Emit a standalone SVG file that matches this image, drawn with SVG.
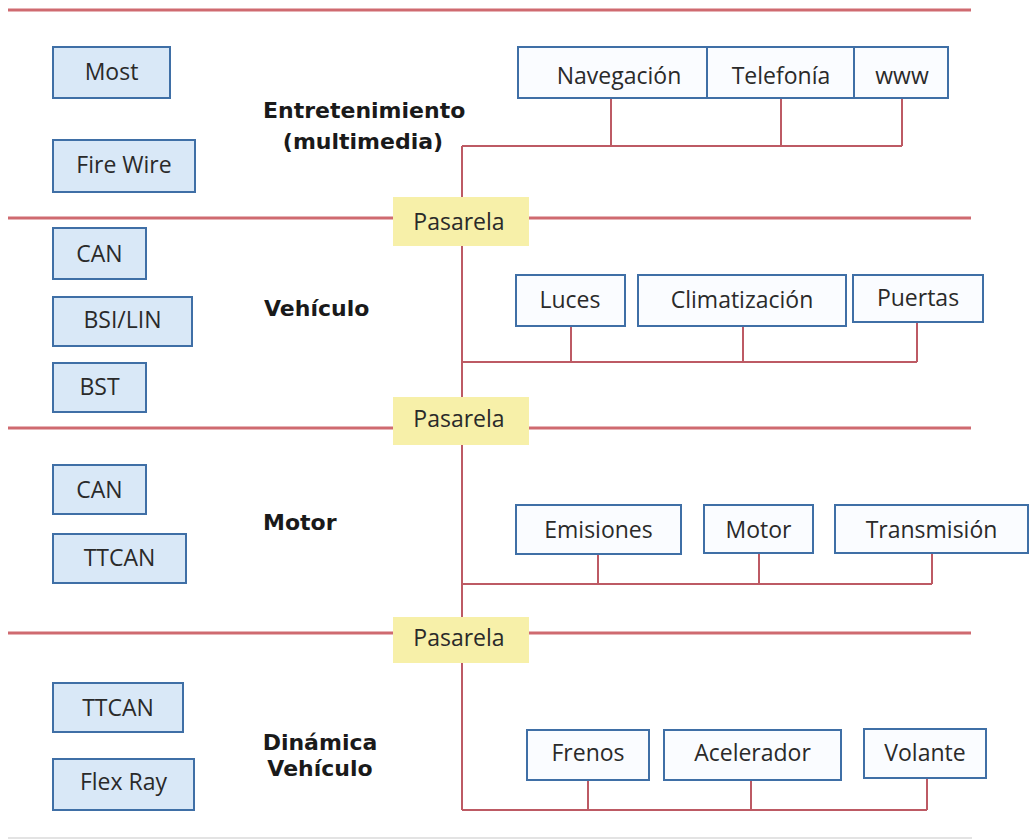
<svg xmlns="http://www.w3.org/2000/svg" width="1033" height="840" viewBox="0 0 1033 840">
<style>
.sep{stroke:#cf6a70;stroke-width:3;fill:none}
.con{stroke:#bd5a64;stroke-width:2;fill:none}
.lbox{fill:#d9e8f7;stroke:#3f6fa6;stroke-width:2}
.rbox{fill:#fafcff;stroke:#3f6fa6;stroke-width:2}
.gw{fill:#f7f0a9}
.t{font-family:"Open Sans","Noto Sans",sans-serif;font-size:23px;fill:#2a2a2a;text-anchor:middle}
.b{font-family:"DejaVu Sans","Open Sans",sans-serif;font-size:22px;font-weight:bold;fill:#1a1a1a}
</style>
<rect width="1033" height="840" fill="#ffffff"/>
<g id="separators">
<line class="sep" x1="8" y1="10" x2="971" y2="10"/>
<line class="sep" x1="8" y1="218" x2="971" y2="218"/>
<line class="sep" x1="8" y1="428" x2="971" y2="428"/>
<line class="sep" x1="8" y1="633" x2="971" y2="633"/>
<line x1="8" y1="838" x2="972" y2="838" stroke="#e3e3e3" stroke-width="2"/>
</g>
<g id="connectors">
<path class="con" d="M462 146V197M462 246V397M462 445V617M462 663V810"/>
<path class="con" d="M462 146H902M611 98V146M781 98V146M902 98V146"/>
<path class="con" d="M462 362H917M571 326V362M743 326V362M917 322V362"/>
<path class="con" d="M462 584H932M598 554V584M759 553V584M932 553V584"/>
<path class="con" d="M462 810H927M588 780V810M751 780V810M927 778V810"/>
</g>
<g id="labels">
<text class="b" x="263" y="118">Entretenimiento</text>
<text class="b" x="363" y="149" text-anchor="middle" font-size="19">(multimedia)</text>
<text class="b" x="264" y="316">Vehículo</text>
<text class="b" x="263" y="530">Motor</text>
<text class="b" x="320" y="750" text-anchor="middle">Dinámica</text>
<text class="b" x="320" y="776" text-anchor="middle">Vehículo</text>
</g>
<g id="gw1"><rect class="gw" x="393" y="197" width="136" height="49"/><text class="t" x="459" y="230">Pasarela</text></g>
<g id="gw2"><rect class="gw" x="393" y="397" width="136" height="48"/><text class="t" x="459" y="427">Pasarela</text></g>
<g id="gw3"><rect class="gw" x="393" y="617" width="136" height="46"/><text class="t" x="459" y="646">Pasarela</text></g>
<g id="most"><rect class="lbox" x="53" y="47" width="117" height="51"/><text class="t" x="111.5" y="80">Most</text></g>
<g id="firewire"><rect class="lbox" x="53" y="140" width="142" height="52"/><text class="t" x="124" y="173">Fire Wire</text></g>
<g id="can1"><rect class="lbox" x="53" y="228" width="93" height="51"/><text class="t" x="99.5" y="262">CAN</text></g>
<g id="bsilin"><rect class="lbox" x="53" y="297" width="139" height="49"/><text class="t" x="122.5" y="328">BSI/LIN</text></g>
<g id="bst"><rect class="lbox" x="53" y="363" width="93" height="49"/><text class="t" x="99.5" y="395">BST</text></g>
<g id="can2"><rect class="lbox" x="53" y="465" width="93" height="49"/><text class="t" x="99.5" y="498">CAN</text></g>
<g id="ttcan1"><rect class="lbox" x="53" y="534" width="133" height="49"/><text class="t" x="119.5" y="566">TTCAN</text></g>
<g id="ttcan2"><rect class="lbox" x="53" y="683" width="130" height="49"/><text class="t" x="118" y="716">TTCAN</text></g>
<g id="flexray"><rect class="lbox" x="53" y="759" width="141" height="51"/><text class="t" x="123.5" y="790">Flex Ray</text></g>
<g id="navegacion"><rect class="rbox" x="518" y="47" width="189" height="51"/><text class="t" x="619" y="84">Navegación</text></g>
<g id="telefonia"><rect class="rbox" x="707" y="47" width="147" height="51"/><text class="t" x="781" y="84">Telefonía</text></g>
<g id="www"><rect class="rbox" x="854" y="47" width="94" height="51"/><text class="t" x="902" y="84">www</text></g>
<g id="luces"><rect class="rbox" x="516" y="275" width="109" height="51"/><text class="t" x="570" y="308">Luces</text></g>
<g id="climatizacion"><rect class="rbox" x="638" y="275" width="208" height="51"/><text class="t" x="742" y="308">Climatización</text></g>
<g id="puertas"><rect class="rbox" x="853" y="275" width="130" height="47"/><text class="t" x="918" y="306">Puertas</text></g>
<g id="emisiones"><rect class="rbox" x="516" y="505" width="165" height="49"/><text class="t" x="598.5" y="538">Emisiones</text></g>
<g id="motor"><rect class="rbox" x="704" y="505" width="109" height="48"/><text class="t" x="758.5" y="538">Motor</text></g>
<g id="transmision"><rect class="rbox" x="835" y="505" width="193" height="48"/><text class="t" x="931.5" y="538">Transmisión</text></g>
<g id="frenos"><rect class="rbox" x="527" y="730" width="122" height="50"/><text class="t" x="588" y="761">Frenos</text></g>
<g id="acelerador"><rect class="rbox" x="664" y="730" width="177" height="50"/><text class="t" x="752.5" y="761">Acelerador</text></g>
<g id="volante"><rect class="rbox" x="864" y="729" width="122" height="49"/><text class="t" x="925" y="761">Volante</text></g>
</svg>
